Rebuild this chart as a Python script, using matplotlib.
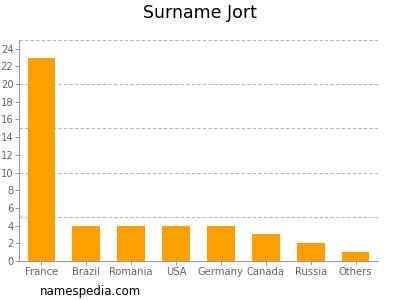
import matplotlib
matplotlib.use('Agg')
import matplotlib.pyplot as plt

# Data
countries = ["France", "Brazil", "Romania", "USA", "Germany", "Canada", "Russia", "Others"]
counts = [23, 4, 4, 4, 4, 3, 2, 1]
yticks = list(range(0, 25, 2))
grid_levels = [5, 10, 15, 20, 25]

fig = plt.figure(figsize=(4, 3), dpi=100)
ax = fig.add_axes([0.0475, 0.13, 0.8975, 0.737])

x = range(len(countries))
ax.bar(x, counts, width=0.62, color='#ffa000', zorder=3)

for g in grid_levels:
    ax.axhline(g, color='#b5b5b5', linestyle=(0, (3, 2)), linewidth=0.8, zorder=1)

ax.set_xlim(-0.5, len(countries) - 0.5)
ax.set_ylim(0, 25)
ax.set_yticks(yticks)
ax.set_xticks(list(x))
ax.set_xticklabels(countries)
ax.tick_params(axis='both', labelsize=7.2, colors='#888888', length=3, width=0.6, pad=1)
ax.tick_params(axis='both', labelcolor='#666666')

for s in ['top', 'right']:
    ax.spines[s].set_visible(False)
for s in ['left', 'bottom']:
    ax.spines[s].set_color('#999999')
    ax.spines[s].set_linewidth(0.8)

fig.text(0.5, 0.955, "Surname Jort", ha='center', va='center', fontsize=12.5)
fig.text(0.1, 0.027, "namespedia.com", ha='left', va='center', fontsize=8.5)

fig.savefig('out.png', dpi=100)
